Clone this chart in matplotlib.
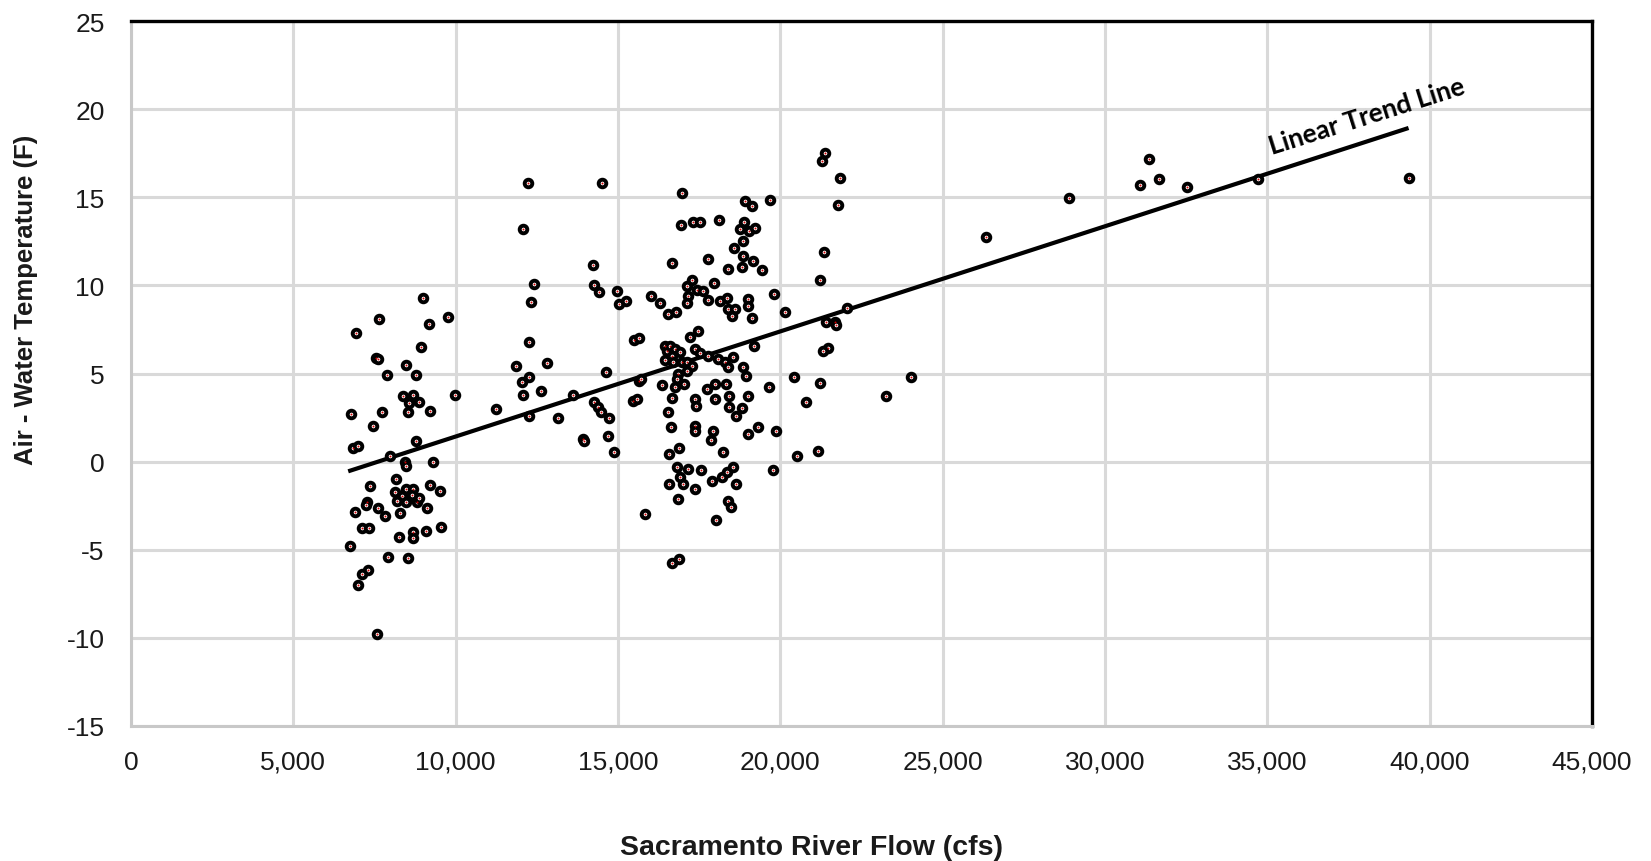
import matplotlib
matplotlib.use("Agg")
import matplotlib.pyplot as plt
import numpy as np

# ---------------- data ----------------
flow_left = [6830, 7000, 8780, 8440, 8470, 9310, 7990, 7360, 8160, 9210, 9520,
             8130, 8470, 8690, 8650, 8340, 8470, 8180, 8800, 8880, 7280, 7240,
             7600, 7820, 6900, 8280, 9130, 7100, 7340, 8260, 8680, 8700, 9090,
             9540, 6740, 7920, 8540, 7310, 7100, 6980, 7570,
             6930, 7640, 8990, 9760, 9180, 8930, 7560, 7620, 8470, 7880, 8780,
             9980, 8380, 8680, 8870, 8560, 9210, 8530, 7730, 6780, 7450]
temp_left = [0.76, 0.9, 1.19, -0.04, -0.23, 0.0, 0.3, -1.37, -0.99, -1.33, -1.65,
             -1.71, -1.55, -1.55, -1.89, -1.97, -2.27, -2.22, -2.27, -2.08, -2.31, -2.46,
             -2.63, -3.07, -2.88, -2.91, -2.65, -3.78, -3.78, -4.26, -4.01, -4.35, -3.92,
             -3.69, -4.77, -5.43, -5.49, -6.15, -6.38, -7.0, -9.78,
             7.3, 8.1, 9.3, 8.2, 7.8, 6.5, 5.9, 5.8, 5.5, 4.9, 4.9,
             3.8, 3.7, 3.8, 3.4, 3.3, 2.9, 2.8, 2.8, 2.7, 2.0]

flow_mid = [12410, 12320, 12260, 11860, 12810, 12260, 12040, 12070, 12630, 11240,
            12260, 12080, 12240, 13150, 13600, 13930,
            14220, 14260, 14420, 14980, 15040, 15240, 14520, 14630, 14270, 14390,
            14470, 14720, 14700, 14870, 13950, 15490, 15650, 15640, 15710, 15470,
            15590, 15830, 16010, 16290]
temp_mid = [10.1, 9.05, 6.8, 5.4, 5.6, 4.8, 4.5, 3.8, 4.0, 3.0,
            2.6, 13.2, 15.8, 2.5, 3.8, 1.3,
            11.17, 10.02, 9.6, 9.7, 8.94, 9.13, 15.8, 5.07, 3.4, 3.08,
            2.8, 2.46, 1.47, 0.53, 1.19, 6.9, 7.03, 4.57, 4.69, 3.46,
            3.55, -2.97, 9.41, 8.98]

flow_dense = [16980, 18910, 19140, 19680, 21290, 21390, 21830, 21780, 16940, 17320,
              17520, 18120, 18880, 19030, 18750, 19220, 18840, 18580, 18860, 19170,
              19430, 18380, 18820, 17780, 16670, 21340, 21220, 16550, 16790, 17130,
              17290, 17160, 17130, 17420, 17620, 17760, 17960, 18140, 18350, 18400,
              18600, 18500, 19010, 18990, 19120, 19800, 20140, 21400, 21680, 21710,
              22040, 21460, 21300, 16450, 16520, 16600, 16750, 16650, 16910, 16450,
              16700, 16960, 17110, 17210, 17470, 17370, 17520, 17780, 17270, 17110,
              16860, 16810, 17030, 16750, 16340, 18090, 18290, 18400, 18550, 18840,
              18940, 19190, 16650, 16530, 16620, 17370, 17400, 17730, 17990, 17990,
              18330, 17370, 17370, 17920, 17850, 18430, 18430, 18630, 18810, 18990,
              19650, 19300, 18990, 19860, 18240, 20520, 21150, 20420, 20800, 21220,
              16580, 16890, 16810, 17160, 16910, 16580, 17010, 17370, 17550, 17880,
              18190, 18350, 18550, 18630, 18400, 18480, 16840, 18020, 19760, 16650,
              16880]
temp_dense = [15.24, 14.8, 14.5, 14.86, 17.07, 17.5, 16.07, 14.58, 13.4, 13.58,
              13.58, 13.73, 13.58, 13.1, 13.2, 13.25, 12.53, 12.1, 11.68, 11.4,
              10.89, 10.93, 11.03, 11.5, 11.25, 11.91, 10.29, 8.38, 8.47, 9.98,
              10.32, 9.41, 9.0, 9.75, 9.7, 9.17, 10.13, 9.13, 9.28, 8.66,
              8.66, 8.28, 9.23, 8.85, 8.13, 9.51, 8.47, 7.9, 7.9, 7.75,
              8.7, 6.45, 6.26, 6.58, 6.29, 6.58, 6.39, 6.01, 6.2, 5.77,
              5.67, 5.64, 5.64, 7.05, 7.43, 6.39, 6.16, 6.01, 5.44, 5.16,
              4.97, 4.69, 4.4, 4.22, 4.35, 5.82, 5.63, 5.35, 5.92, 5.35,
              4.87, 6.58, 3.59, 2.8, 1.98, 3.55, 3.14, 4.12, 4.4, 3.55,
              4.4, 2.04, 1.75, 1.75, 1.24, 3.74, 3.08, 2.6, 3.02, 3.7,
              4.22, 1.98, 1.57, 1.72, 0.56, 0.33, 0.6, 4.82, 3.4, 4.44,
              0.43, 0.76, -0.32, -0.42, -0.89, -1.27, -1.27, -1.55, -0.48, -1.08,
              -0.89, -0.6, -0.32, -1.27, -2.22, -2.6, -2.12, -3.29, -0.46, -5.75,
              -5.5]

flow_high = [23250, 24040, 26350, 28880, 31080, 31370, 31670, 32540, 34710, 39350]
temp_high = [3.7, 4.82, 12.74, 14.94, 15.72, 17.15, 16.02, 15.6, 16.04, 16.1]

flow = np.array(flow_left + flow_mid + flow_dense + flow_high)
temp = np.array(temp_left + temp_mid + temp_dense + temp_high)

trend_x = [6690, 39350]
trend_y = [-0.55, 18.93]

x_ticks = [0, 5000, 10000, 15000, 20000, 25000, 30000, 35000, 40000, 45000]
y_ticks = [-15, -10, -5, 0, 5, 10, 15, 20, 25]

x_label = "Sacramento River Flow (cfs)"
y_label = "Air - Water Temperature (F)"
trend_label = "Linear Trend Line"

# ---------------- figure ----------------
W, H = 1651, 862
fig = plt.figure(figsize=(W / 100, H / 100), dpi=100)
fig.patch.set_facecolor("white")
ax = fig.add_axes([131 / W, 1 - 727 / H, (1592 - 131) / W, (727 - 22) / H])

ax.set_xlim(0, 45000)
ax.set_ylim(-15, 25)
ax.set_xticks(x_ticks)
ax.set_yticks(y_ticks)
ax.set_xticklabels([f"{v:,}" for v in x_ticks])
ax.set_yticklabels([str(v) for v in y_ticks])

ax.grid(True, color="#d9d9d9", linewidth=2.2, zorder=0)
ax.set_axisbelow(True)

for side in ("left", "bottom"):
    ax.spines[side].set_color("#c8c8c8")
    ax.spines[side].set_linewidth(2.2)
for side in ("top", "right"):
    ax.spines[side].set_color("black")
    ax.spines[side].set_linewidth(2.4)

ax.tick_params(axis="both", length=0, labelsize=19, labelcolor="#1a1a1a",
               labelfontfamily="Liberation Sans")
ax.tick_params(axis="x", pad=17)
ax.tick_params(axis="y", pad=19)

# trend line
ax.plot(trend_x, trend_y, color="black", linewidth=3.0, zorder=2,
        solid_capstyle="butt")

# markers
ax.scatter(flow, temp, s=30, facecolor="white", edgecolor="black",
           linewidth=2.8, zorder=3)
ax.scatter(flow, temp, s=2.0, color="#d00000", linewidth=0, zorder=4)

ax.text(35140, 17.45, trend_label, rotation=17.5, rotation_mode="anchor",
        ha="left", va="baseline", fontsize=19, fontweight="bold",
        family="Lato", color="black", zorder=5)

fig.text(811 / W, 1 - 848 / H, x_label, ha="center", va="center",
         fontsize=20.5, fontweight="bold", family="Liberation Sans",
         color="#1a1a1a")
fig.text(26 / W, 1 - 300 / H, y_label, ha="center", va="center",
         rotation=90, fontsize=18.5, fontweight="bold",
         family="Liberation Sans", color="#1a1a1a")

fig.savefig("out.png", dpi=100, facecolor="white")
